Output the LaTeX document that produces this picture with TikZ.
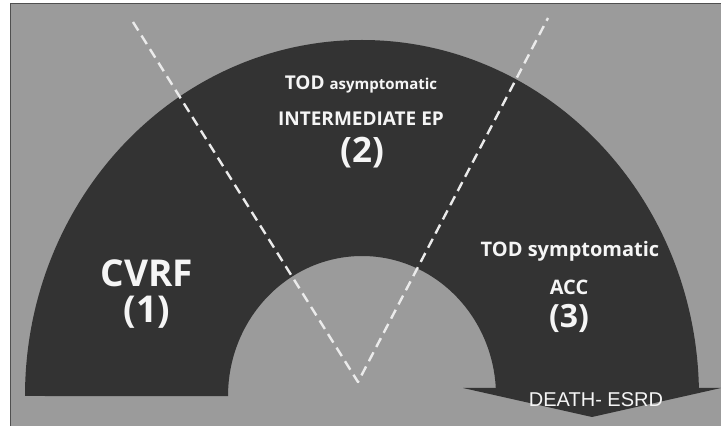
\documentclass[tikz,border=0pt]{standalone}
\usepackage{fontspec}
\setmainfont{Open Sans}
\newfontfamily\arialfont{Liberation Sans}
\definecolor{panelgray}{HTML}{9B9B9B}
\definecolor{bandgray}{HTML}{333333}
\definecolor{framegray}{HTML}{505050}
\newcommand{\fsz}[1]{\fontsize{#1}{#1}\selectfont}
\begin{document}
\begin{tikzpicture}[x=1pt,y=1pt,
  lbl/.style={text=white!96!black, font=\bfseries, inner sep=0pt, anchor=base},
  guide/.style={draw=white!92!black, line width=2.4pt, dash pattern=on 10pt off 6pt, line join=round}]
  % canvas and frame
  \useasboundingbox (0,0) rectangle (721,426);
  \fill[white] (0,0) rectangle (721,426);
  \fill[panelgray] (10.5,0) rectangle (721,422.5);
  \draw[framegray, line width=1.3pt] (10.5,0) -- (10.5,422.5) -- (721,422.5);

  % the curved band ending in a downward arrow
  \fill[bandgray]
    (25,30) arc[start angle=180, end angle=1.29, x radius=337, y radius=356]
    -- (721,38) -- (592,9) -- (463,38) -- (495.8,38)
    arc[start angle=3.28, end angle=180, x radius=134, y radius=140]
    -- cycle;

  % dashed V separating the stages
  \coordinate (vl) at (133,404);
  \coordinate (vtip) at (358,44);
  \coordinate (vr) at (548,408);
  \draw[guide] (vl) -- (vtip) -- (vr);

  % stage labels
  \node[lbl] (tod1) at (361,336) {\fsz{19}TOD \fsz{15}asymptomatic};
  \node[lbl] (iep) at (361,300) {\fsz{19}INTERMEDIATE EP};
  \node[lbl, anchor=center] (n2) at (362,273) {\fsz{35}(2)};
  \node[lbl] (cvrf) at (147,139) {\fsz{37}CVRF};
  \node[lbl, anchor=center] (n1) at (147,114) {\fsz{37}(1)};
  \node[lbl] (tod2) at (570,169) {\fsz{20}TOD symptomatic};
  \node[lbl] (acc) at (569,131) {\fsz{20}ACC};
  \node[lbl, anchor=center] (n3) at (569,108) {\fsz{32}(3)};
  \node[lbl, font=\arialfont] (death) at (596,19) {\fsz{20}DEATH- ESRD};
\end{tikzpicture}
\end{document}
